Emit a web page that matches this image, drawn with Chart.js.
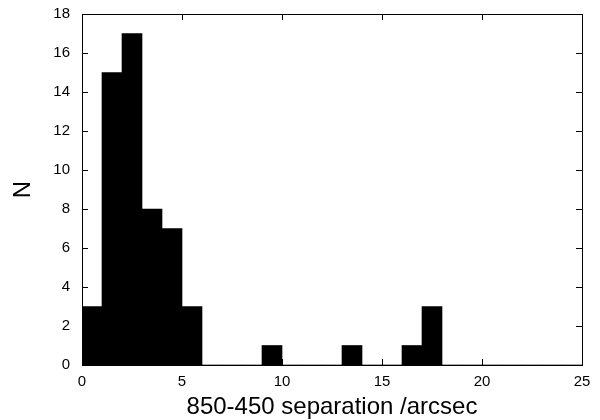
<!DOCTYPE html>
<html>
<head>
<meta charset="utf-8">
<script src="https://cdn.jsdelivr.net/npm/chart.js@4"></script>
<style>
  html, body { margin: 0; padding: 0; background: #fff; }
  #wrap { width: 600px; height: 420px; }
</style>
</head>
<body>
<div id="wrap"><canvas id="c" width="600" height="420"></canvas></div>
<script>
// histogram bins (lower edges, width 1 arcsec) and counts
const binEdges = [0,1,2,3,4,5,6,7,8,9,10,11,12,13,14,15,16,17,18,19,20,21,22,23,24];
const counts   = [3,15,17,8,7,3,0,0,0,1,0,0,0,1,0,0,1,3,0,0,0,0,0,0,0];
const xTicks = [0,5,10,15,20,25];
const yTicks = [0,2,4,6,8,10,12,14,16,18];

const FONT = '"Liberation Sans", Arial, sans-serif';

// frame + inward ticks on all four sides, gnuplot style
const frame = {
  id: 'frame',
  afterDatasetsDraw(chart) {
    const { ctx, chartArea: a, scales: { x, y } } = chart;
    const len = 6;
    ctx.save();
    ctx.strokeStyle = '#000';
    ctx.lineWidth = 1;
    ctx.beginPath();
    xTicks.forEach(v => {
      const px = Math.round(x.getPixelForValue(v)) + 0.5;
      ctx.moveTo(px, a.bottom); ctx.lineTo(px, a.bottom - len);
      ctx.moveTo(px, a.top); ctx.lineTo(px, a.top + len);
    });
    yTicks.forEach(v => {
      const py = Math.round(y.getPixelForValue(v)) + 0.5;
      ctx.moveTo(a.left, py); ctx.lineTo(a.left + len, py);
      ctx.moveTo(a.right, py); ctx.lineTo(a.right - len, py);
    });
    ctx.stroke();
    ctx.strokeRect(Math.round(a.left) + 0.5, Math.round(a.top) + 0.5,
                   Math.round(a.right - a.left), Math.round(a.bottom - a.top));
    ctx.restore();
  }
};

new Chart(document.getElementById('c'), {
  type: 'bar',
  data: {
    datasets: [{
      data: binEdges.map((e, i) => ({ x: e + 0.5, y: counts[i] })),
      backgroundColor: '#000',
      borderWidth: 0,
      barPercentage: 1,
      categoryPercentage: 1
    }]
  },
  options: {
    responsive: false,
    animation: false,
    layout: { padding: { top: 14, right: 18, left: 0, bottom: 1 } },
    plugins: { legend: { display: false }, tooltip: { enabled: false } },
    scales: {
      x: {
        type: 'linear',
        min: 0, max: 25,
        offset: false,
        grid: { display: false, drawTicks: false },
        border: { display: false },
        afterBuildTicks: s => { s.ticks = xTicks.map(v => ({ value: v })); },
        afterFit: s => { s.height = 54; s.paddingLeft = 0; s.paddingRight = 0; },
        ticks: { color: '#000', font: { family: FONT, size: 15 }, padding: 8, maxRotation: 0 },
        title: { display: true, text: '850-450 separation /arcsec', color: '#000',
                 font: { family: FONT, size: 24, lineHeight: 1 }, padding: { top: 0, bottom: 0 } }
      },
      y: {
        min: 0, max: 18,
        grid: { display: false, drawTicks: false },
        border: { display: false },
        afterBuildTicks: s => { s.ticks = yTicks.map(v => ({ value: v })); },
        afterFit: s => { s.width = 82; s.paddingTop = 0; s.paddingBottom = 0; },
        ticks: { color: '#000', font: { family: FONT, size: 15 }, padding: 12 },
        title: { display: true, text: 'N', color: '#000',
                 font: { family: FONT, size: 24, lineHeight: 1 }, padding: { top: 11, bottom: 0 } }
      }
    }
  },
  plugins: [frame]
});
</script>
</body>
</html>
